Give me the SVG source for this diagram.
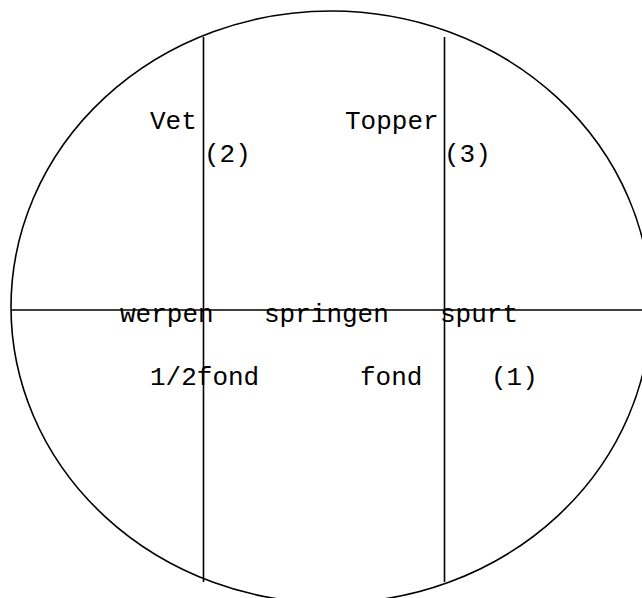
<svg xmlns="http://www.w3.org/2000/svg" width="642" height="598" viewBox="0 0 642 598">
<style>
.ln{stroke:#000;stroke-width:1.6;fill:none}
.t{font-family:"Liberation Mono","Courier New",monospace;font-size:26px;fill:#000}
</style>
<rect width="642" height="598" fill="#fff"/>
<g id="field">
<ellipse class="ln" cx="331" cy="307" rx="320" ry="296"/>
</g>
<g id="connectors">
<line class="ln" x1="11" y1="310" x2="642" y2="310"/>
<line class="ln" x1="203.5" y1="37" x2="203.5" y2="582"/>
<line class="ln" x1="444.5" y1="37" x2="444.5" y2="582"/>
</g>
<g id="labels">
<text class="t" x="150" y="129">Vet</text>
<text class="t" x="204" y="162">(2)</text>
<text class="t" x="345" y="129">Topper</text>
<text class="t" x="444" y="162">(3)</text>
<text class="t" x="120" y="322">werpen</text>
<text class="t" x="264" y="322">springen</text>
<text class="t" x="440" y="322">spurt</text>
<text class="t" x="150" y="385">1/2fond</text>
<text class="t" x="360" y="385">fond</text>
<text class="t" x="491" y="385">(1)</text>
</g>
</svg>
